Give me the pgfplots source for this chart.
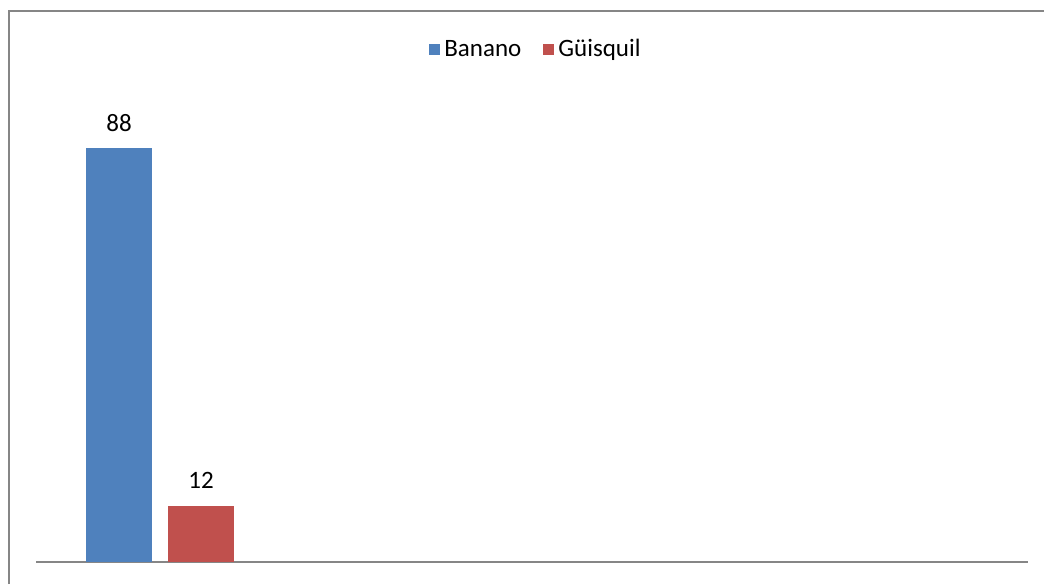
\documentclass[border=0pt]{standalone}
\usepackage{pgfplots}
\pgfplotsset{compat=1.18}
\usepackage{fontspec}
\setmainfont{Carlito}

\definecolor{banano}{HTML}{4F81BD}
\definecolor{guisquil}{HTML}{C0504D}
\definecolor{framegray}{HTML}{868686}

\begin{document}
\begin{tikzpicture}[font=\fontsize{12.5}{14}\selectfont]
\useasboundingbox (0,0) rectangle (522pt,292pt);
% outer chart frame (top and left edges visible)
\draw[framegray, line width=1pt] (4.5pt,0) -- (4.5pt,286.5pt) -- (523pt,286.5pt);
\begin{axis}[
    at={(18pt,11pt)}, anchor=south west,
    scale only axis,
    width=496pt, height=235pt,
    ybar=8pt,
    bar width=33pt,
    xmin=0, xmax=4,
    ymin=0, ymax=100,
    axis x line=bottom,
    axis y line=none,
    x axis line style={-, framegray, line width=0.6pt},
    xtick=\empty, ytick=\empty,
    clip=false,
    nodes near coords,
    every node near coord/.append style={font=\fontsize{12.5}{14}\selectfont, black, yshift=5pt},
    /pgf/number format/assume math mode=true,
    legend columns=2,
    legend style={at={(0.505,1.09)}, anchor=center, draw=none, fill=none,
        font=\fontsize{12.5}{14}\selectfont,
        /tikz/every even column/.append style={column sep=9pt},
        /tikz/every odd column/.append style={inner xsep=1.5pt}},
    legend image code/.code={\fill[#1, draw=none] (0pt,-2.8pt) rectangle (5.5pt,2.8pt);},
]
\addplot[fill=banano, draw=none] coordinates {(0.5,88)};
\addplot[fill=guisquil, draw=none] coordinates {(0.5,12)};
\legend{Banano, Güisquil}
\end{axis}
\end{tikzpicture}
\end{document}
